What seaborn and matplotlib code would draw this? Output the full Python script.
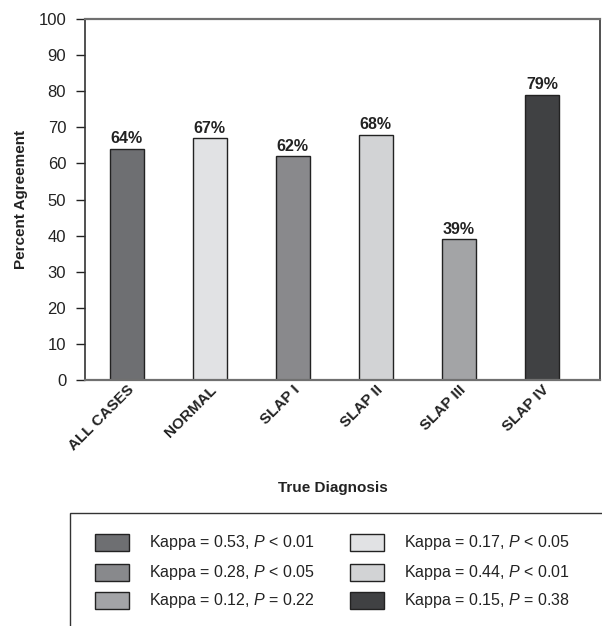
import matplotlib
matplotlib.use("Agg")
import matplotlib.pyplot as plt
import seaborn as sns
import pandas as pd
from matplotlib.patches import Rectangle

categories = ["ALL CASES", "NORMAL", "SLAP I", "SLAP II", "SLAP III", "SLAP IV"]
values = [64, 67, 62, 68, 39, 79]
labels = ["64%", "67%", "62%", "68%", "39%", "79%"]
colors = ["#6e6f72", "#e1e2e4", "#88898c", "#d2d3d5", "#a3a4a7", "#404143"]
kappa_text = ["Kappa = 0.53, $P$ < 0.01", "Kappa = 0.17, $P$ < 0.05",
              "Kappa = 0.28, $P$ < 0.05", "Kappa = 0.44, $P$ < 0.01",
              "Kappa = 0.12, $P$ = 0.22", "Kappa = 0.15, $P$ = 0.38"]
kappa_colors = ["#6e6f72", "#e1e2e4", "#88898c", "#d2d3d5", "#a3a4a7", "#404143"]

sns.set_style("white")
plt.rcParams['font.family'] = ['Liberation Sans', 'DejaVu Sans']
plt.rcParams['mathtext.fontset'] = 'custom'
plt.rcParams['mathtext.it'] = 'Liberation Sans:italic'
plt.rcParams['mathtext.rm'] = 'Liberation Sans'

df = pd.DataFrame({"cat": categories, "val": values})

fig = plt.figure(figsize=(6.02, 6.26), dpi=100)
ax = fig.add_axes([85/602, 1-380/626, (600-85)/602, (380-19)/626])
sns.barplot(data=df, x="cat", y="val", hue="cat", palette=colors, order=categories,
            hue_order=categories, width=0.41, edgecolor="#222222", linewidth=1.0,
            dodge=False, legend=False, ax=ax)

for i, (v, l) in enumerate(zip(values, labels)):
    ax.text(i, v + 0.7, l, ha="center", va="bottom", fontsize=11.5, fontweight="bold",
            color="#222222")

ax.set_xlim(-0.5, 5.7)
ax.set_ylim(0, 100)
ax.set_yticks(range(0, 101, 10))
ax.tick_params(axis="y", direction="out", length=6.5, width=1, labelsize=12, pad=7,
               colors="#222222", left=True)
ax.tick_params(axis="x", length=0, pad=2)
ax.set_xticks(range(len(categories)))
ax.set_xticklabels(categories, rotation=45, ha="right", rotation_mode="anchor",
                   fontsize=11, fontweight="bold", color="#222222")
for s in ["top", "bottom"]:
    ax.spines[s].set_color("#707070")
    ax.spines[s].set_linewidth(1.6)
for s in ["left", "right"]:
    ax.spines[s].set_color("#333333")
    ax.spines[s].set_linewidth(1.2)
ax.set_ylabel("Percent Agreement", fontsize=11, fontweight="bold", color="#222222")
ax.yaxis.set_label_coords((28-85)/515, 0.5)
ax.set_xlabel("")
fig.text(333/602, 1-488/626, "True Diagnosis", ha="center", va="center", fontsize=11,
         fontweight="bold", color="#222222")

# legend box
fig.patches.append(Rectangle((70/602, -0.05), 1.0, 1-513/626+0.05, transform=fig.transFigure,
                             fill=False, edgecolor="#333333", linewidth=1.0))
rows_y = [542, 572, 600]
col_px = [95, 350]
for k, (t, c) in enumerate(zip(kappa_text, kappa_colors)):
    r, col = divmod(k, 2)
    x0 = col_px[col]
    yc = rows_y[r]
    fig.patches.append(Rectangle((x0/602, 1-(yc+8.5)/626), 34/602, 17/626,
                                 transform=fig.transFigure, facecolor=c,
                                 edgecolor="#222222", linewidth=1.0))
    fig.text((x0+54)/602, 1-yc/626, t, ha="left", va="center", fontsize=11.5,
             color="#222222")

fig.savefig("out.png", dpi=100)
